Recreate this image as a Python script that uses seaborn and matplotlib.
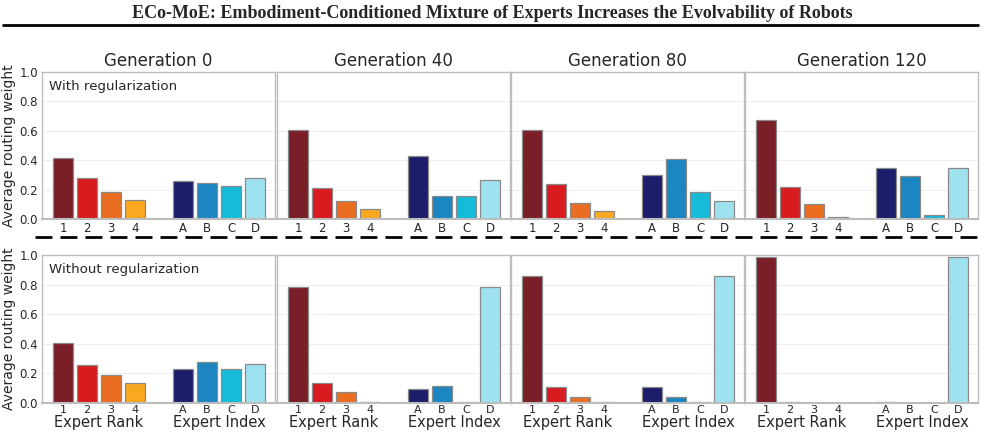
import numpy as np
import pandas as pd
import matplotlib
matplotlib.use("Agg")
import matplotlib.pyplot as plt
import seaborn as sns
from matplotlib.lines import Line2D

# Labels and groups
rank_labels = ["1", "2", "3", "4"]
index_labels = ["A", "B", "C", "D"]
generations = ["Generation 0", "Generation 40", "Generation 80", "Generation 120"]
row_names = ["With regularization", "Without regularization"]

# Average routing weights: rank bars then index bars, per generation
with_rank = [
    [0.413, 0.277, 0.184, 0.127],
    [0.607, 0.213, 0.122, 0.068],
    [0.603, 0.240, 0.109, 0.056],
    [0.675, 0.220, 0.100, 0.013],
]
with_index = [
    [0.256, 0.243, 0.222, 0.281],
    [0.430, 0.156, 0.156, 0.265],
    [0.298, 0.407, 0.182, 0.125],
    [0.349, 0.290, 0.027, 0.345],
]
without_rank = [
    [0.406, 0.257, 0.192, 0.138],
    [0.781, 0.133, 0.075, 0.010],
    [0.856, 0.111, 0.039, 0.006],
    [0.987, 0.010, 0.003, 0.001],
]
without_index = [
    [0.228, 0.280, 0.228, 0.264],
    [0.095, 0.115, 0.010, 0.781],
    [0.111, 0.039, 0.006, 0.856],
    [0.010, 0.003, 0.001, 0.987],
]

rank_colors = ["#7a1e28", "#d71b1e", "#ea6e21", "#f9a81f"]
index_colors = ["#1c1e6b", "#1b86c1", "#16bbd9", "#9fe2ef"]

# x positions: ranks, a gap, then indices
positions = [0, 1, 2, 3, 5, 6, 7, 8]

sns.set_style("white")
plt.rcParams["font.family"] = ["DejaVu Sans"]

fig = plt.figure(figsize=(9.85, 4.36), dpi=100)

W, H = 985.0, 436.0
col_left = [42, 277, 511, 745]
col_w = 233
rows = [(72, 219), (255, 403)]

labels = rank_labels + index_labels
palette = dict(zip(labels, rank_colors + index_colors))

data_rows = [(with_rank, with_index), (without_rank, without_index)]

for r, (top, bot) in enumerate(rows):
    ranks, idxs = data_rows[r]
    for c in range(4):
        ax = fig.add_axes([col_left[c] / W, 1 - bot / H, col_w / W, (bot - top) / H])
        df = pd.DataFrame({
            "pos": positions,
            "weight": ranks[c] + idxs[c],
            "label": labels,
        })
        sns.barplot(data=df, x="pos", y="weight", hue="label", palette=palette,
                    native_scale=True, width=0.85, saturation=1, dodge=False,
                    legend=False, edgecolor="#8a8a8a", linewidth=0.9, ax=ax)
        ax.set_xlim(-0.88, 8.83)
        ax.set_ylim(0, 1.0)
        ax.set_yticks(np.arange(0, 1.01, 0.2))
        ax.yaxis.grid(True, color="#eeeeee", linewidth=0.7)
        ax.set_axisbelow(True)
        for s in ax.spines.values():
            s.set_color("#bdbdbd")
            s.set_linewidth(1.0)
        ax.spines["bottom"].set_linewidth(1.5)
        ax.set_xticks(positions)
        ax.set_xlabel("")
        ax.set_ylabel("")
        if r == 0:
            ax.set_xticklabels(labels, fontsize=8.5)
            ax.tick_params(axis="x", length=2, pad=0.5, color="#bdbdbd")
            ax.set_title(generations[c], fontsize=12, pad=4)
        else:
            ax.set_xticklabels(labels, fontsize=8)
            ax.tick_params(axis="x", length=1.5, pad=0, color="#bdbdbd")
            ax.text(1.5, -0.13, "Expert Rank", ha="center", va="center",
                    fontsize=10.5, transform=ax.get_xaxis_transform())
            ax.text(6.5, -0.13, "Expert Index", ha="center", va="center",
                    fontsize=10.5, transform=ax.get_xaxis_transform())
        if c == 0:
            ax.tick_params(axis="y", length=2, pad=1, labelsize=8.5, color="#888888")
            ax.set_ylabel("Average routing weight", fontsize=10)
            ax.yaxis.set_label_coords(-0.112, 0.5)
            ax.text(0.03, 0.9, row_names[r], transform=ax.transAxes,
                    fontsize=9.6, ha="left", va="center")
        else:
            ax.tick_params(axis="y", length=0, labelleft=False)

# header and separators
fig.text(0.5, 1 - 13 / H,
         "ECo-MoE: Embodiment-Conditioned Mixture of Experts Increases the Evolvability of Robots",
         ha="center", va="center", fontsize=13, fontweight="bold",
         family=["Liberation Serif", "DejaVu Serif"])
fig.add_artist(Line2D([3 / W, 978 / W], [1 - 25 / H, 1 - 25 / H],
                      color="black", linewidth=2, transform=fig.transFigure))
fig.add_artist(Line2D([35 / W, 1.0], [1 - 237 / H, 1 - 237 / H],
                      color="black", linewidth=2, linestyle=(0, (6.1, 2.9)),
                      transform=fig.transFigure))

fig.savefig("out.png", dpi=100)
